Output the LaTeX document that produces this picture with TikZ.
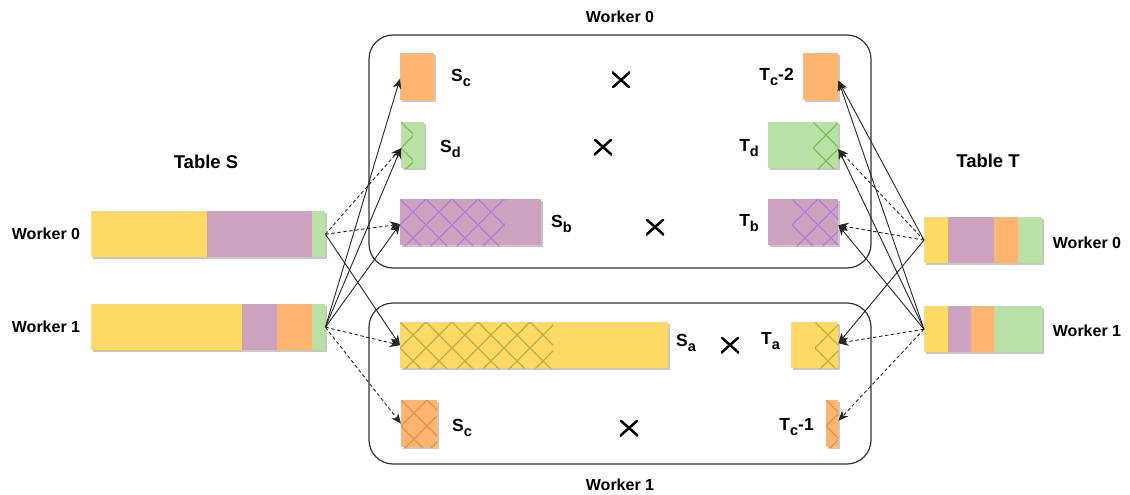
\documentclass[tikz,border=0pt]{standalone}
\usepackage{fontspec}
\setmainfont{Liberation Sans}
\usetikzlibrary{shadows,arrows.meta}
\definecolor{yel}{HTML}{FFD966}
\definecolor{pur}{HTML}{CDA2BE}
\definecolor{grn}{HTML}{B9E0A5}
\definecolor{org}{HTML}{FFB570}
\definecolor{yelH}{HTML}{C2AE48}
\definecolor{purH}{HTML}{B77BE2}
\definecolor{grnH}{HTML}{7CC257}
\definecolor{orgH}{HTML}{E49446}
\newcommand\sublab[3]{#1\raisebox{-4.5pt}{\fontsize{14.5}{15}\selectfont #2}#3}
\newcommand\hatchbox[5]{%
  \begin{scope}
    \clip (#1,#2) rectangle (#3,#4);
    \foreach \k in {-8,...,12}{
      \draw[#5, line width=1.3pt] ({#1+\k*26},#2) -- ++(80,80);
      \draw[#5, line width=1.3pt] ({#1+\k*26},#2) -- ++(-80,80);
    }
  \end{scope}}
\tikzset{
  blk/.style={rectangle, inner sep=0pt, draw=none, fill=#1, anchor=north west,
    drop shadow={shadow xshift=1.5pt, shadow yshift=-2pt, fill=black!22, opacity=1}},
  lbl/.style={font=\fontsize{16}{19}\selectfont\bfseries, inner sep=0pt},
  title/.style={font=\fontsize{18.5}{22}\selectfont\bfseries, inner sep=0pt},
  sym/.style={font=\fontsize{17.5}{20}\selectfont\bfseries, inner sep=0pt},
  workerbox/.style={draw=black!80, line width=1.2pt, rounded corners=24pt},
  xmark/.style={minimum width=18pt, minimum height=16pt, inner sep=0pt,
    path picture={\draw[line width=2.5pt]
      (path picture bounding box.north west) -- (path picture bounding box.south east)
      (path picture bounding box.south west) -- (path picture bounding box.north east);}},
  conn/.style={draw=black!85, line width=0.9pt, -{Stealth[length=10pt,width=8.5pt,inset=3pt]}},
  local/.style={conn, dash pattern=on 3.5pt off 2.5pt}
}
\begin{document}
\begin{tikzpicture}[x=1pt,y=-1pt]
\useasboundingbox[fill=white] (0,0) rectangle (1130,495);

% worker boxes
\draw[workerbox] (369,35) rectangle (871,268);
\draw[workerbox] (369,303) rectangle (871,464);
\node[lbl] (w0top) at (620,17) {Worker 0};
\node[lbl] (w1bot) at (620,485) {Worker 1};

% Table S
\node[title] (tabS) at (206,162) {Table S};
\node[lbl] (sw0lab) at (46,234) {Worker 0};
\node[lbl] (sw1lab) at (46,327) {Worker 1};
\node[blk=yel, minimum width=116pt, minimum height=46pt] (sw0y) at (91,211) {};
\node[blk=pur, minimum width=105pt, minimum height=46pt] (sw0p) at (207,211) {};
\node[blk=grn, minimum width=13pt, minimum height=46pt] (sw0g) at (312,211) {};
\node[blk=yel, minimum width=151pt, minimum height=46pt] (sw1y) at (91,304) {};
\node[blk=pur, minimum width=35pt, minimum height=46pt] (sw1p) at (242,304) {};
\node[blk=org, minimum width=35pt, minimum height=46pt] (sw1o) at (277,304) {};
\node[blk=grn, minimum width=13pt, minimum height=46pt] (sw1g) at (312,304) {};

% Table T
\node[title] (tabT) at (988,161) {Table T};
\node[lbl] (tw0lab) at (1087,243) {Worker 0};
\node[lbl] (tw1lab) at (1087,331) {Worker 1};
\node[blk=yel, minimum width=24pt, minimum height=46pt] (tw0y) at (924,217) {};
\node[blk=pur, minimum width=46pt, minimum height=46pt] (tw0p) at (948,217) {};
\node[blk=org, minimum width=24pt, minimum height=46pt] (tw0o) at (994,217) {};
\node[blk=grn, minimum width=24pt, minimum height=46pt] (tw0g) at (1018,217) {};
\node[blk=yel, minimum width=24pt, minimum height=46pt] (tw1y) at (924,306) {};
\node[blk=pur, minimum width=23pt, minimum height=46pt] (tw1p) at (948,306) {};
\node[blk=org, minimum width=23pt, minimum height=46pt] (tw1o) at (971,306) {};
\node[blk=grn, minimum width=48pt, minimum height=46pt] (tw1g) at (994,306) {};

% Worker 0 partitions
\node[blk=org, minimum width=34pt, minimum height=47pt] (sc0) at (400,53) {};
\node[blk=grn, minimum width=23pt, minimum height=46pt] (sd) at (401,122) {};
\hatchbox{401}{122}{413}{168}{grnH}
\node[blk=pur, minimum width=141pt, minimum height=46pt] (sb) at (400,199) {};
\hatchbox{400}{199}{505}{245}{purH}
\node[blk=org, minimum width=35pt, minimum height=47pt] (tc2) at (803,53) {};
\node[blk=grn, minimum width=70pt, minimum height=46pt] (td) at (768,122) {};
\hatchbox{813}{122}{838}{168}{grnH}
\node[blk=pur, minimum width=70pt, minimum height=46pt] (tb) at (768,199) {};
\hatchbox{792}{199}{838}{245}{purH}

\node[sym, anchor=west] (lsc0) at (451,78) {\sublab{S}{c}{}};
\node[sym, anchor=west] (lsd) at (440,149) {\sublab{S}{d}{}};
\node[sym, anchor=west] (lsb) at (551,224) {\sublab{S}{b}{}};
\node[sym, anchor=east] (ltc2) at (794,77) {\sublab{T}{c}{-2}};
\node[sym, anchor=east] (ltd) at (759,148) {\sublab{T}{d}{}};
\node[sym, anchor=east] (ltb) at (759,223) {\sublab{T}{b}{}};
\node[xmark] (x1) at (621,80) {};
\node[xmark] (x2) at (603,147) {};
\node[xmark] (x3) at (655,227) {};

% Worker 1 partitions
\node[blk=yel, minimum width=268pt, minimum height=46pt] (sa) at (400,322) {};
\hatchbox{400}{322}{553}{368}{yelH}
\node[blk=yel, minimum width=47pt, minimum height=46pt] (ta) at (791,322) {};
\hatchbox{815}{322}{838}{368}{yelH}
\node[blk=org, minimum width=36pt, minimum height=47pt] (sc1) at (401,400) {};
\hatchbox{401}{400}{437}{447}{orgH}
\node[blk=org, minimum width=12pt, minimum height=47pt] (tc1) at (826,400) {};
\hatchbox{826}{400}{838}{447}{orgH}

\node[sym, anchor=west] (lsa) at (676,343) {\sublab{S}{a}{}};
\node[sym, anchor=west] (lta) at (761,341) {\sublab{T}{a}{}};
\node[sym, anchor=west] (lsc1) at (452,428) {\sublab{S}{c}{}};
\node[sym, anchor=east] (ltc1) at (814,427) {\sublab{T}{c}{-1}};
\node[xmark] (x4) at (730,345) {};
\node[xmark] (x5) at (629,428) {};

% connectors from Table S
\draw[local] (sw0g.east) -- ([yshift=-3pt]sd.west);
\draw[local] (sw0g.east) -- ([yshift=-2pt]sb.west);
\draw[conn] (sw0g.east) -- (sa.west);
\draw[conn] (sw1g.east) -- ([yshift=-2pt]sc0.west);
\draw[conn] (sw1g.east) -- ([yshift=-3pt]sd.west);
\draw[conn] (sw1g.east) -- ([yshift=-2pt]sb.west);
\draw[local] (sw1g.east) -- (sa.west);
\draw[local] (sw1g.east) -- (sc1.west);

% connectors from Table T
\draw[conn] (tw0y.west) -- ([yshift=-4pt]tc2.east);
\draw[local] (tw0y.west) -- ([yshift=-4pt]td.east);
\draw[local] (tw0y.west) -- ([yshift=-3pt]tb.east);
\draw[conn] (tw0y.west) -- ([yshift=2pt]ta.east);
\draw[conn] (tw1y.west) -- ([yshift=-4pt]tc2.east);
\draw[conn] (tw1y.west) -- ([yshift=-4pt]td.east);
\draw[conn] (tw1y.west) -- ([yshift=-3pt]tb.east);
\draw[local] (tw1y.west) -- ([yshift=2pt]ta.east);
\draw[local] (tw1y.west) -- ([yshift=3pt]tc1.east);
\end{tikzpicture}
\end{document}
